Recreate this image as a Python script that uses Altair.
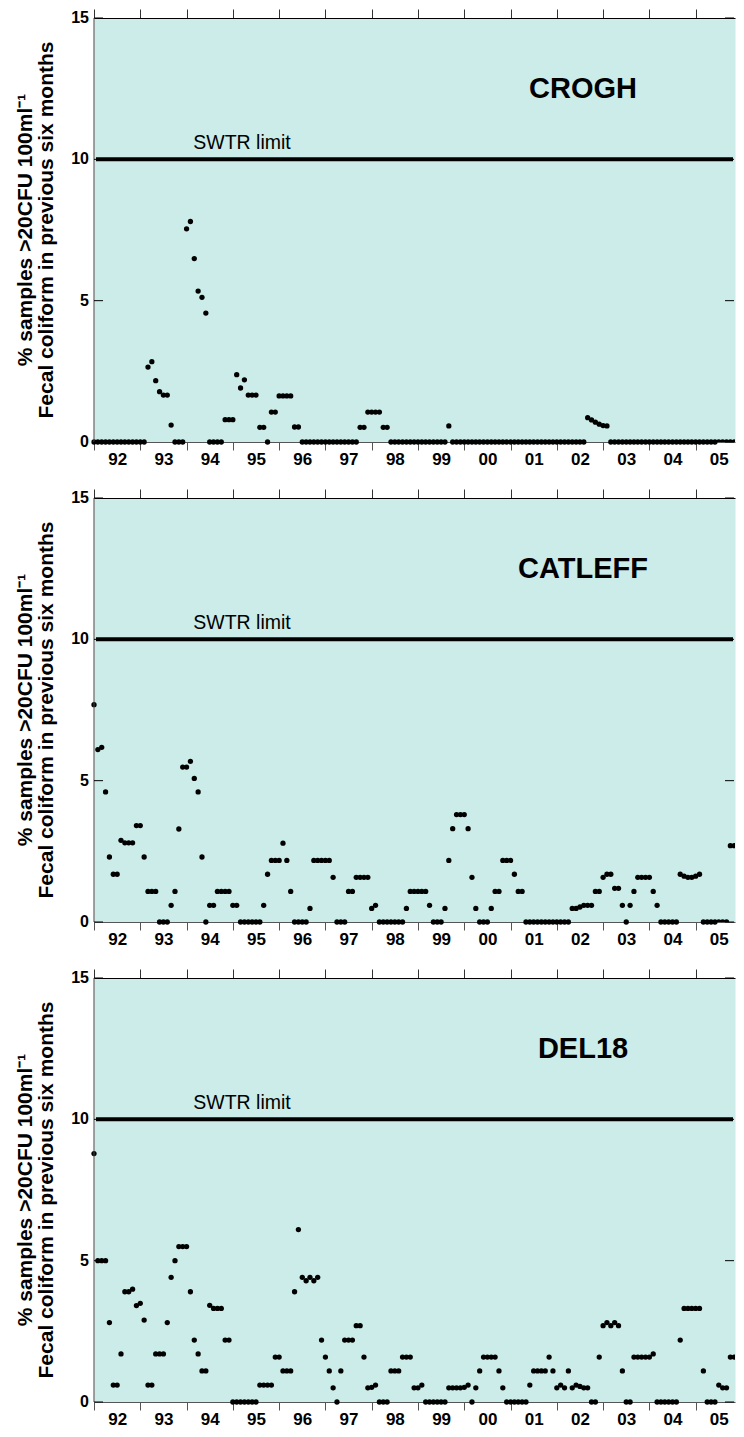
import altair as alt
import pandas as pd

# ---------------- data ----------------
first_year = 1992
x_end = 2005.85
tick_years = list(range(1992, 2006))
label_years = list(range(1992, 2006))
y_ticks = [0, 5, 10, 15]
y_tick_labels = ["0", "5", "10", "15"]
swtr_limit = [10]
stations = ["CROGH", "CATLEFF", "DEL18"]
y_title = ["% samples >20CFU 100ml\u207b\u00b9", "Fecal coliform in previous six months"]

# monthly values, Jan 1992 .. Dec 2005 (one row per year)
crogh = [
    0, 0, 0, 0, 0, 0, 0, 0, 0, 0, 0, 0,
    0, 0, 2.65, 2.84, 2.17, 1.78, 1.66, 1.66, 0.6, 0, 0, 0,
    7.54, 7.8, 6.49, 5.34, 5.12, 4.56, 0, 0, 0, 0, 0.79, 0.79,
    0.79, 2.38, 1.91, 2.2, 1.66, 1.66, 1.66, 0.52, 0.52, 0, 1.06, 1.06,
    1.63, 1.63, 1.63, 1.63, 0.53, 0.53, 0, 0, 0, 0, 0, 0,
    0, 0, 0, 0, 0, 0, 0, 0, 0, 0.52, 0.52, 1.06,
    1.06, 1.06, 1.06, 0.52, 0.52, 0, 0, 0, 0, 0, 0, 0,
    0, 0, 0, 0, 0, 0, 0, 0, 0.57, 0, 0, 0,
    0, 0, 0, 0, 0, 0, 0, 0, 0, 0, 0, 0,
    0, 0, 0, 0, 0, 0, 0, 0, 0, 0, 0, 0,
    0, 0, 0, 0, 0, 0, 0, 0, 0.86, 0.78, 0.70, 0.63,
    0.58, 0.57, 0, 0, 0, 0, 0, 0, 0, 0, 0, 0,
    0, 0, 0, 0, 0, 0, 0, 0, 0, 0, 0, 0,
    0, 0, 0, 0, 0, 0, 0, 0, 0, 0, 0, 0,
]

catleff = [
    7.69, 6.10, 6.18, 4.6, 2.3, 1.69, 1.69, 2.89, 2.8, 2.8, 2.8, 3.41,
    3.41, 2.3, 1.08, 1.08, 1.08, 0, 0, 0, 0.59, 1.08, 3.29, 5.48,
    5.48, 5.68, 5.08, 4.6, 2.3, 0, 0.59, 0.59, 1.08, 1.08, 1.08, 1.08,
    0.59, 0.59, 0, 0, 0, 0, 0, 0, 0.59, 1.69, 2.18, 2.18,
    2.18, 2.79, 2.18, 1.08, 0, 0, 0, 0, 0.48, 2.18, 2.18, 2.18,
    2.18, 2.18, 1.58, 0, 0, 0, 1.08, 1.08, 1.58, 1.58, 1.58, 1.58,
    0.48, 0.59, 0, 0, 0, 0, 0, 0, 0, 0.48, 1.08, 1.08,
    1.08, 1.08, 1.08, 0.59, 0, 0, 0, 0.48, 2.18, 3.3, 3.8, 3.8,
    3.8, 3.3, 1.58, 0.48, 0, 0, 0, 0.48, 1.08, 1.08, 2.18, 2.18,
    2.18, 1.69, 1.08, 1.08, 0, 0, 0, 0, 0, 0, 0, 0,
    0, 0, 0, 0, 0.48, 0.48, 0.53, 0.59, 0.59, 0.59, 1.08, 1.08,
    1.58, 1.69, 1.69, 1.19, 1.19, 0.59, 0, 0.59, 1.08, 1.58, 1.58, 1.58,
    1.58, 1.08, 0.59, 0, 0, 0, 0, 0, 1.69, 1.62, 1.58, 1.58,
    1.62, 1.69, 0, 0, 0, 0, 0, 0, 0, 2.7, 2.7, 2.7,
]

del18 = [
    8.79, 5.0, 5.0, 5.0, 2.81, 0.6, 0.6, 1.7, 3.9, 3.9, 3.99, 3.41,
    3.49, 2.9, 0.6, 0.6, 1.7, 1.7, 1.7, 2.81, 4.41, 5.0, 5.5, 5.5,
    5.5, 3.9, 2.19, 1.7, 1.1, 1.1, 3.42, 3.31, 3.31, 3.31, 2.19, 2.19,
    0, 0, 0, 0, 0, 0, 0, 0.6, 0.6, 0.6, 0.6, 1.59,
    1.59, 1.1, 1.1, 1.1, 3.9, 6.1, 4.41, 4.29, 4.41, 4.29, 4.41, 2.19,
    1.59, 1.1, 0.5, 0, 1.1, 2.19, 2.19, 2.19, 2.7, 2.7, 1.59, 0.5,
    0.52, 0.6, 0, 0, 0, 1.1, 1.1, 1.1, 1.59, 1.59, 1.59, 0.5,
    0.5, 0.6, 0, 0, 0, 0, 0, 0, 0.5, 0.5, 0.5, 0.5,
    0.52, 0.6, 0, 0.5, 1.1, 1.59, 1.59, 1.59, 1.59, 1.1, 0.5, 0,
    0, 0, 0, 0, 0, 0.6, 1.1, 1.1, 1.1, 1.1, 1.59, 1.1,
    0.5, 0.6, 0.5, 1.1, 0.5, 0.6, 0.55, 0.5, 0.5, 0, 0, 1.59,
    2.7, 2.81, 2.7, 2.81, 2.7, 1.1, 0, 0, 1.59, 1.59, 1.59, 1.59,
    1.59, 1.7, 0, 0, 0, 0, 0, 0, 2.19, 3.31, 3.31, 3.31,
    3.31, 3.31, 1.1, 0, 0, 0, 0.6, 0.5, 0.5, 1.59, 1.59, 2.19,
]

series = [crogh, catleff, del18]

# ---------------- style ----------------
W, H = 641, 424
BG = "#CBECE8"
FONT = "Liberation Sans"
YEAR_PX = W / (x_end - first_year)
EDGE = 2005.45   # points after this are clipped at the plot's right edge

xs = alt.Scale(domain=[first_year, x_end], nice=False, zero=False)
ys = alt.Scale(domain=[y_ticks[0], y_ticks[-1]], nice=False)


def Y(field="v"):
    return alt.Y(f"{field}:Q", scale=ys, axis=None)


def panel(name, vals):
    df = pd.DataFrame({
        "t": [first_year + i / 12 for i in range(len(vals))],
        "v": vals,
    })
    base = alt.Chart(df)
    pts = base.transform_filter(f"datum.t < {EDGE}").mark_circle(
        size=28, color="black", opacity=1
    ).encode(
        x=alt.X("t:Q", scale=xs, axis=alt.Axis(
            orient="bottom", values=label_years, title=None, grid=False,
            labelExpr="substring(toString(datum.value), 2, 4)",
            labelOffset=YEAR_PX / 2, labelFlush=False,
            tickSize=8, tickColor="#555", domainColor="#555",
            labelFont=FONT, labelFontSize=17, labelFontWeight="bold",
            labelColor="black", labelPadding=1,
        )),
        y=Y(),
    )
    pts_edge = base.transform_filter(f"datum.t >= {EDGE}").mark_circle(
        size=28, color="black", opacity=1, clip=True
    ).encode(x=alt.X("t:Q", scale=xs, axis=None), y=Y())
    top = base.mark_circle(opacity=0, clip=True).encode(
        x=alt.X("t:Q", scale=xs, axis=alt.Axis(
            orient="top", values=tick_years, labels=False, title=None,
            grid=False, tickSize=9, tickColor="#333", domainColor="black",
        )),
        y=Y(),
    )
    lim = pd.DataFrame({"v": swtr_limit})
    rule = alt.Chart(lim).mark_rule(color="black", strokeWidth=4).encode(
        y=Y(), x=alt.value(2), x2=alt.value(W - 2)
    )
    lim_text = alt.Chart(lim).mark_text(
        text="SWTR limit", font=FONT, fontSize=19.5, align="center",
        baseline="alphabetic", dy=-10, color="black",
    ).encode(x=alt.value(148), y=Y())
    name_text = alt.Chart(pd.DataFrame({"s": [name]})).mark_text(
        font=FONT, fontSize=29, fontWeight="bold", align="center",
        baseline="middle", color="black",
    ).encode(x=alt.value(489), y=alt.value(71), text="s:N")
    titles = pd.DataFrame({"s": y_title})
    t1 = alt.Chart(titles.iloc[[0]]).mark_text(
        font=FONT, fontSize=21, fontWeight="bold", align="center",
        baseline="alphabetic", angle=270, color="black",
    ).encode(x=alt.value(-62.5), y=alt.value(H / 2), text="s:N")
    t2 = alt.Chart(titles.iloc[[1]]).mark_text(
        font=FONT, fontSize=21, fontWeight="bold", align="center",
        baseline="alphabetic", angle=270, color="black",
    ).encode(x=alt.value(-41), y=alt.value(H / 2), text="s:N")
    tk = pd.DataFrame({"v": y_ticks, "lab": y_tick_labels})
    ylabels = alt.Chart(tk).mark_text(
        font=FONT, fontSize=16, fontWeight="bold", align="right",
        baseline="middle", color="black",
    ).encode(y=Y(), x=alt.value(-5), text="lab:N")
    ydomain = alt.Chart(lim).mark_rule(color="#444", strokeWidth=1).encode(
        x=alt.value(0), y=alt.value(0), y2=alt.value(H)
    )
    lticks = alt.Chart(tk).mark_rule(color="black", strokeWidth=1).encode(
        y=Y(), x=alt.value(0), x2=alt.value(9)
    )
    rticks = alt.Chart(tk).mark_rule(color="black", strokeWidth=1).encode(
        y=Y(), x=alt.value(W - 10), x2=alt.value(W - 1)
    )
    return alt.layer(
        pts, pts_edge, top, rule, lim_text, name_text, t1, t2, ylabels,
        ydomain, lticks, rticks,
    ).resolve_axis(x="independent").properties(width=W, height=H)


chart = alt.vconcat(
    *[panel(n, s) for n, s in zip(stations, series)], spacing=20
).properties(
    padding={"left": 6, "top": 0, "right": 0, "bottom": 0}
).configure_view(fill=BG, stroke="transparent")

chart.save("out.html", embed_options={"renderer": "svg", "actions": False})
